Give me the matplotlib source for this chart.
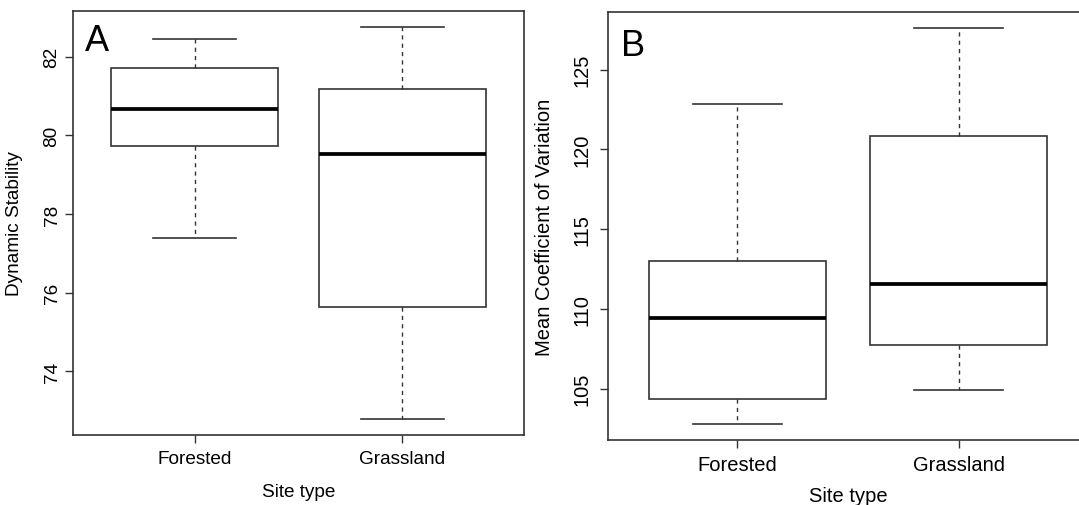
import matplotlib
matplotlib.use("Agg")
import matplotlib.pyplot as plt

plt.rcParams["font.family"] = ["Liberation Sans", "DejaVu Sans"]

# 資料
sites = ["Forested", "Grassland"]

stab_low = [77.38, 72.78]
stab_q1 = [79.73, 75.64]
stab_med = [80.68, 79.52]
stab_q3 = [81.70, 81.18]
stab_high = [82.44, 82.76]
stab_ticks = [74, 76, 78, 80, 82]

cv_low = [102.78, 104.93]
cv_q1 = [104.35, 107.74]
cv_med = [109.43, 111.57]
cv_q3 = [113.01, 120.81]
cv_high = [122.82, 127.61]
cv_ticks = [105, 110, 115, 120, 125]

W, H = 1079, 506
LINE = "#333333"


def rbox(ax, low, q1, med, q3, high, ticks, ylab, letter, fs, ypad, letter_xy):
    """R 風格的盒鬚圖。"""
    stats = []
    for i in range(len(sites)):
        stats.append({"whislo": low[i], "q1": q1[i], "med": med[i],
                      "q3": q3[i], "whishi": high[i], "fliers": [],
                      "label": sites[i]})
    ax.bxp(stats, positions=[1, 2], widths=0.8, capwidths=0.4,
           showfliers=False, patch_artist=True,
           boxprops=dict(facecolor="white", edgecolor=LINE, linewidth=1.2),
           medianprops=dict(color="black", linewidth=2.7, solid_capstyle="butt"),
           whiskerprops=dict(color=LINE, linewidth=1.0, linestyle=(0, (3, 3))),
           capprops=dict(color=LINE, linewidth=1.2))
    lo, hi = min(low), max(high)
    pad = 0.04 * (hi - lo)
    ax.set_ylim(lo - pad, hi + pad)
    ax.set_xlim(0.415, 2.585)
    ax.set_yticks(ticks)
    ax.set_yticklabels([str(t) for t in ticks], rotation=90, va="center")
    ax.tick_params(axis="both", length=6, width=1.0, color=LINE,
                   labelsize=fs)
    ax.tick_params(axis="x", pad=5)
    ax.tick_params(axis="y", pad=ypad)
    for s in ax.spines.values():
        s.set_color(LINE)
        s.set_linewidth(1.2)
    ax.set_ylabel(ylab, fontsize=fs)
    ax.set_xlabel("Site type", fontsize=fs)
    ax.text(letter_xy[0], letter_xy[1], letter, transform=ax.transAxes,
            fontsize=26, ha="left", va="top")


fig = plt.figure(figsize=(W / 100, H / 100), dpi=100)

# 以像素位置設定兩個面板
axA = fig.add_axes([73 / W, (H - 436) / H, 451 / W, 424 / H])
axB = fig.add_axes([608 / W, (H - 441) / H, 480 / W, 428 / H])

rbox(axA, stab_low, stab_q1, stab_med, stab_q3, stab_high, stab_ticks,
     "Dynamic Stability", "A", 13.7, 3, (0.026, 0.972))
axA.yaxis.set_label_coords(-0.11, 0.5)
axA.xaxis.set_label_coords(0.5, -0.114)

rbox(axB, cv_low, cv_q1, cv_med, cv_q3, cv_high, cv_ticks,
     "Mean Coefficient of Variation", "B", 14.5, 6, (0.027, 0.962))
axB.yaxis.set_label_coords(-0.112, 0.5)
axB.xaxis.set_label_coords(0.5, -0.108)

fig.savefig("out.png", dpi=100)
